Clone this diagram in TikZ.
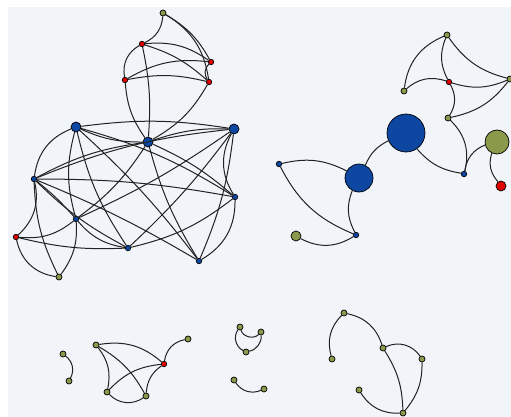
\documentclass[tikz,border=0pt]{standalone}
\definecolor{bg}{HTML}{F1F5F9}
\definecolor{nblue}{HTML}{0D47A1}
\definecolor{nred}{HTML}{E00000}
\definecolor{nolive}{HTML}{8A9A4B}
\definecolor{edge}{HTML}{222222}
\begin{document}
\begin{tikzpicture}[x=1pt,y=1pt,
  nd/.style={circle,draw=black,line width=0.7pt,inner sep=0pt,minimum size=#1},
  bl/.style={nd=#1,fill=nblue}, bl/.default=5.5pt,
  rd/.style={nd=#1,fill=nred}, rd/.default=5.5pt,
  ol/.style={nd=#1,fill=nolive}, ol/.default=6pt,
  ed/.style={draw=edge,line width=1pt}]
\useasboundingbox (0,0) rectangle (511,-417);
\fill[white] (0,0) rectangle (511,-417);
\fill[bg] (8,-7) rectangle (511,-417);
% top cluster
\node[ol] (g1) at (163,-13) {};
\node[rd] (r1) at (142,-44) {};
\node[rd] (r2) at (211,-62) {};
\node[rd] (r3) at (125,-80) {};
\node[rd] (r4) at (209,-82) {};
% main cluster
\node[bl=10pt] (B1) at (76,-127) {};
\node[bl=10pt] (B2) at (148,-142) {};
\node[bl=10pt] (B3) at (234,-129) {};
\node[bl] (b4) at (34,-179) {};
\node[bl] (b5) at (235,-197) {};
\node[bl] (b6) at (76,-219) {};
\node[rd] (R5) at (16,-237) {};
\node[bl] (b7) at (128,-248) {};
\node[bl] (b8) at (199,-261) {};
\node[ol] (g2) at (59,-277) {};
% right cluster
\node[ol] (g3) at (447,-35) {};
\node[rd] (r6) at (449,-82) {};
\node[ol] (g4) at (404,-91) {};
\node[ol] (g5) at (510,-79) {};
\node[ol] (g6) at (448,-118) {};
\node[bl=38pt] (BB) at (406,-133) {};
\node[bl=28pt] (B7) at (359,-178) {};
\node[bl] (b9) at (279,-164) {};
\node[bl] (b10) at (356,-235) {};
\node[ol=10pt] (g7) at (296,-236) {};
\node[bl] (b11) at (464,-174) {};
\node[ol=24pt] (G8) at (497,-142) {};
\node[rd=10pt] (r7) at (501,-186) {};
% bottom left
\node[ol] (g9) at (63,-354) {};
\node[ol] (g10) at (69,-381) {};
\node[ol] (g11) at (96,-345) {};
\node[rd] (r8) at (164,-364) {};
\node[ol] (g12) at (188,-339) {};
\node[ol] (g13) at (107,-392) {};
\node[ol] (g14) at (146,-396) {};
\node[ol] (g15) at (240,-327) {};
\node[ol] (g16) at (261,-332) {};
\node[ol] (g17) at (246,-352) {};
\node[ol] (g18) at (234,-380) {};
\node[ol] (g19) at (264,-389) {};
% bottom right
\node[ol] (h1) at (344,-313) {};
\node[ol] (h2) at (332,-359) {};
\node[ol] (h3) at (383,-348) {};
\node[ol] (h4) at (422,-359) {};
\node[ol] (h5) at (359,-390) {};
\node[ol] (h6) at (403,-413) {};
% edges: top cluster
\path[ed] (g1) to[bend left=30] (r1);
\path[ed] (g1) to[bend left=15] (r2);
\path[ed] (g1) to[bend left=25] (r4);
\path[ed] (r1) to[bend left=20] (r2);
\path[ed] (r1) to[bend left=12] (r4);
\path[ed] (r1) to[bend right=35] (r3);
\path[ed] (r3) to[bend left=18] (r2);
\path[ed] (r3) to[bend left=12] (r4);
\path[ed] (r2) to[bend right=40] (r4);
\path[ed] (r1) to[bend left=8] (B2);
\path[ed] (r3) to[bend right=15] (B2);
\path[ed] (r4) to[bend left=15] (B2);
% main cluster
\path[ed] (B1) to[bend left=8] (B3);
\path[ed] (B1) to[bend right=12] (B2);
\path[ed] (B1) to[bend right=30] (b4);
\path[ed] (B1) to[bend right=15] (b6);
\path[ed] (B1) to[bend right=10] (b7);
\path[ed] (B1) to[bend left=5] (b8);
\path[ed] (B1) to[bend left=8] (b5);
\path[ed] (B2) to[bend left=10] (B3);
\path[ed] (b4) to[bend left=10] (B2);
\path[ed] (b4) to[bend left=8] (B3);
\path[ed] (b6) to[bend right=10] (B2);
\path[ed] (B2) to[bend right=8] (b8);
\path[ed] (B2) to[bend left=8] (b5);
\path[ed] (b6) to[bend right=5] (B3);
\path[ed] (b7) to[bend right=5] (B3);
\path[ed] (B3) to[bend left=8] (b8);
\path[ed] (B3) to[bend right=30] (b5);
\path[ed] (b4) to[bend left=30] (R5);
\path[ed] (b4) to[bend right=12] (g2);
\path[ed] (b4) to[bend left=5] (b6);
\path[ed] (b4) to[bend right=8] (b7);
\path[ed] (b4) to[bend left=4] (b8);
\path[ed] (b4) to[bend left=5] (b5);
\path[ed] (R5) to[bend right=35] (g2);
\path[ed] (R5) to[bend right=22] (b6);
\path[ed] (R5) to[bend right=8] (b7);
\path[ed] (g2) to[bend right=20] (b6);
\path[ed] (b6) to[bend right=20] (b7);
\path[ed] (b7) to[bend right=12] (b5);
\path[ed] (b8) to[bend right=30] (b5);
% right cluster
\path[ed] (g3) to[bend right=30] (g4);
\path[ed] (g3) to[bend right=25] (r6);
\path[ed] (g3) to[bend right=20] (g5);
\path[ed] (g4) to[bend left=30] (r6);
\path[ed] (r6) to[bend right=20] (g5);
\path[ed] (r6) to[bend left=30] (g6);
\path[ed] (g6) to[bend right=20] (g5);
\path[ed] (g6) to[bend left=30] (b11);
\path[ed] (BB) to[bend right=20] (b11);
\path[ed] (BB) to[bend right=20] (B7);
\path[ed] (B7) to[bend right=20] (b9);
\path[ed] (b9) to[bend right=20] (b10);
\path[ed] (B7) to[bend right=25] (b10);
\path[ed] (b10) to[bend left=30] (g7);
\path[ed] (b11) to[bend left=30] (G8);
\path[ed] (G8) to[bend right=30] (r7);
% bottom left
\path[ed] (g9) to[bend left=40] (g10);
\path[ed] (g11) to[bend left=25] (r8);
\path[ed] (g11) to[bend left=25] (g13);
\path[ed] (g11) to[bend left=15] (g14);
\path[ed] (g13) to[bend left=20] (r8);
\path[ed] (g14) to[bend left=25] (r8);
\path[ed] (g13) to[bend right=40] (g14);
\path[ed] (r8) to[bend left=35] (g12);
\path[ed] (g15) to[bend right=60] (g16);
\path[ed] (g15) to[bend right=50] (g17);
\path[ed] (g17) to[bend right=40] (g16);
\path[ed] (g18) to[bend right=40] (g19);
% bottom right
\path[ed] (h1) to[bend right=30] (h2);
\path[ed] (h1) to[bend left=30] (h3);
\path[ed] (h3) to[bend left=40] (h4);
\path[ed] (h3) to[bend left=15] (h6);
\path[ed] (h4) to[bend left=20] (h6);
\path[ed] (h5) to[bend right=30] (h6);
\end{tikzpicture}
\end{document}
